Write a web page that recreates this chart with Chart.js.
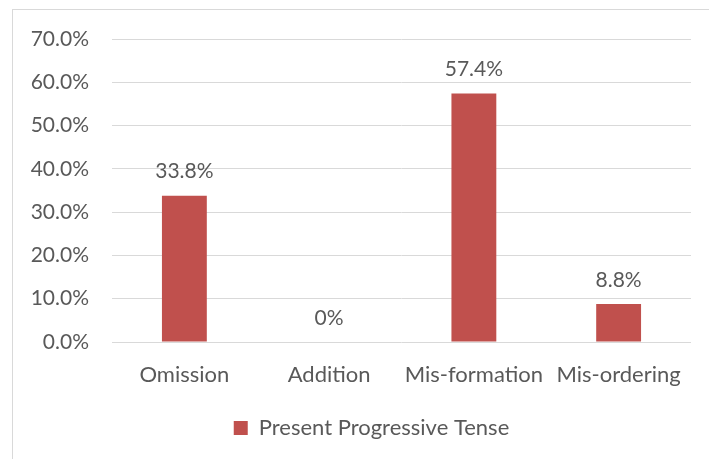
<!DOCTYPE html>
<html>
<head>
<meta charset="utf-8">
<script src="https://cdn.jsdelivr.net/npm/chart.js@4.4.1/dist/chart.umd.min.js"></script>
<style>
  html, body { margin: 0; padding: 0; background: #fff; overflow: hidden; }
  canvas { display: block; }
</style>
</head>
<body>
<canvas id="c" width="709" height="459"></canvas>
<script>
// Error categories and their share of present progressive tense errors (%)
const categories = ['Omission', 'Addition', 'Mis-formation', 'Mis-ordering'];
const seriesName = 'Present Progressive Tense';
const errorShare = [33.8, 0, 57.4, 8.8];
const yTickValues = [0, 10, 20, 30, 40, 50, 60, 70];

const FONT = 'Lato, "Open Sans", sans-serif';
const TEXT = '#595959';
const GRID = '#d9d9d9';
const BAR = '#c0504d';

function valueLabel(v) {
  return v === 0 ? '0%' : v.toFixed(1) + '%';
}

// thin outline around the chart object
const frame = {
  id: 'frame',
  beforeDraw(chart) {
    const ctx = chart.ctx;
    ctx.save();
    ctx.strokeStyle = GRID;
    ctx.lineWidth = 1;
    ctx.strokeRect(12.5, 9.5, chart.width + 40, chart.height + 40);
    ctx.restore();
  }
};

// legend sits a little right of the canvas centre, under the plot
const legendShift = {
  id: 'legendShift',
  afterLayout(chart) {
    const lg = chart.legend;
    if (lg) { lg.left += 26; lg.right += 26; }
  }
};

// value printed above each bar
const valueLabels = {
  id: 'valueLabels',
  afterDatasetsDraw(chart) {
    const ctx = chart.ctx;
    const meta = chart.getDatasetMeta(0);
    ctx.save();
    ctx.font = '21px ' + FONT;
    ctx.fillStyle = TEXT;
    ctx.textAlign = 'center';
    ctx.textBaseline = 'middle';
    meta.data.forEach((bar, i) => {
      ctx.fillText(valueLabel(errorShare[i]), bar.x, bar.y - 24);
    });
    ctx.restore();
  }
};

new Chart(document.getElementById('c'), {
  type: 'bar',
  data: {
    labels: categories,
    datasets: [{
      label: seriesName,
      data: errorShare,
      backgroundColor: BAR,
      borderWidth: 0,
      barPercentage: 0.31,
      categoryPercentage: 1
    }]
  },
  options: {
    responsive: false,
    animation: false,
    devicePixelRatio: 1,
    layout: { padding: { left: 0, top: 39, right: 18, bottom: 10 } },
    plugins: {
      legend: {
        position: 'bottom',
        labels: {
          boxWidth: 14,
          boxHeight: 14,
          color: TEXT,
          font: { family: FONT, size: 22 }
        }
      },
      tooltip: { enabled: false }
    },
    scales: {
      x: {
        grid: { display: false, drawTicks: false },
        border: { display: false },
        ticks: {
          color: TEXT,
          padding: 20,
          maxRotation: 0,
          autoSkip: false,
          font: { family: FONT, size: 22 }
        },
        afterFit(scale) { scale.height = 65; }
      },
      y: {
        min: 0,
        max: 70,
        grid: { color: GRID, lineWidth: 1, drawTicks: false },
        border: { display: false },
        ticks: {
          color: TEXT,
          padding: 23,
          font: { family: FONT, size: 21 },
          callback: v => v.toFixed(1) + '%'
        },
        afterBuildTicks(scale) {
          scale.ticks = yTickValues.map(v => ({ value: v }));
        },
        afterFit(scale) { scale.width = 112; }
      }
    }
  },
  plugins: [frame, legendShift, valueLabels]
});
</script>
</body>
</html>
